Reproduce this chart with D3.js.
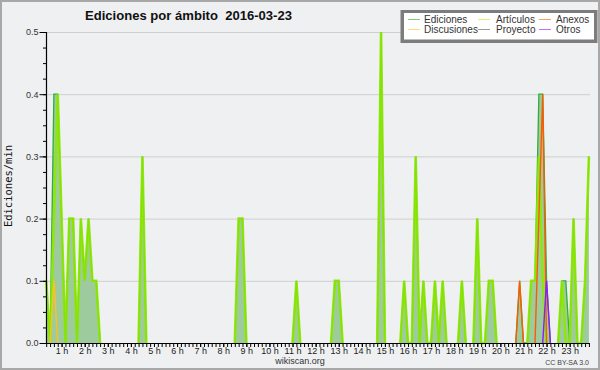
<!DOCTYPE html>
<html>
<head>
<meta charset="utf-8">
<script src="https://cdn.jsdelivr.net/npm/d3@7/dist/d3.min.js"></script>
<style>
  body { margin: 0; background: #f0f0f0; }
</style>
</head>
<body>
<div id="chart"></div>
<script>
// edits per minute, one value per 10 minutes from 0:20 to 23:50
const ediciones = [
  0.1, 0, 0.4, 0.4,
  0.2, 0, 0.2, 0.2, 0, 0.2,
  0.1, 0.2, 0.1, 0.1, 0, 0,
  0, 0, 0, 0, 0, 0,
  0, 0, 0, 0.3, 0, 0,
  0, 0, 0, 0, 0, 0,
  0, 0, 0, 0, 0, 0,
  0, 0, 0, 0, 0, 0,
  0, 0, 0, 0, 0.2, 0.2,
  0, 0, 0, 0, 0, 0,
  0, 0, 0, 0, 0, 0,
  0, 0.1, 0, 0, 0, 0,
  0, 0, 0, 0, 0, 0.1,
  0.1, 0, 0, 0, 0, 0,
  0, 0, 0, 0, 0, 0.5,
  0, 0, 0, 0, 0, 0.1,
  0, 0, 0.3, 0, 0.1, 0,
  0, 0.1, 0, 0.1, 0, 0,
  0, 0, 0.1, 0, 0, 0,
  0.2, 0, 0, 0.1, 0.1, 0,
  0, 0, 0, 0, 0, 0.1,
  0, 0, 0.1, 0.1, 0.4, 0.4,
  0.1, 0, 0, 0, 0.1, 0.1,
  0, 0.2, 0, 0, 0.1, 0.3
];
const articulos = [
  0.1, 0, 0.2, 0.4,
  0.2, 0, 0.2, 0.2, 0, 0.2,
  0.1, 0.2, 0.1, 0.1, 0, 0,
  0, 0, 0, 0, 0, 0,
  0, 0, 0, 0.3, 0, 0,
  0, 0, 0, 0, 0, 0,
  0, 0, 0, 0, 0, 0,
  0, 0, 0, 0, 0, 0,
  0, 0, 0, 0, 0.2, 0.2,
  0, 0, 0, 0, 0, 0,
  0, 0, 0, 0, 0, 0,
  0, 0.1, 0, 0, 0, 0,
  0, 0, 0, 0, 0, 0.1,
  0.1, 0, 0, 0, 0, 0,
  0, 0, 0, 0, 0, 0.5,
  0, 0, 0, 0, 0, 0.1,
  0, 0, 0.3, 0, 0.1, 0,
  0, 0.1, 0, 0.1, 0, 0,
  0, 0, 0.1, 0, 0, 0,
  0.2, 0, 0, 0.1, 0.1, 0,
  0, 0, 0, 0, 0, 0,
  0, 0, 0.1, 0.1, 0.3, 0.1,
  0, 0, 0, 0, 0.1, 0,
  0, 0.2, 0, 0, 0.1, 0.3
];
const discusiones = [
  0, 0, 0.1, 0,
  0, 0, 0, 0, 0, 0,   0, 0, 0, 0, 0, 0,   0, 0, 0, 0, 0, 0,
  0, 0, 0, 0, 0, 0,   0, 0, 0, 0, 0, 0,   0, 0, 0, 0, 0, 0,
  0, 0, 0, 0, 0, 0,   0, 0, 0, 0, 0, 0,   0, 0, 0, 0, 0, 0,
  0, 0, 0, 0, 0, 0,   0, 0, 0, 0, 0, 0,   0, 0, 0, 0, 0, 0,
  0, 0, 0, 0, 0, 0,   0, 0, 0, 0, 0, 0,   0, 0, 0, 0, 0, 0,
  0, 0, 0, 0, 0, 0,   0, 0, 0, 0, 0, 0,   0, 0, 0, 0, 0, 0,
  0, 0, 0, 0, 0, 0,   0, 0, 0, 0, 0, 0,   0, 0, 0, 0, 0, 0,
  0, 0, 0, 0, 0, 0,   0, 0, 0, 0, 0, 0
];
const proyecto = [
  0, 0, 0, 0,
  0, 0, 0, 0, 0, 0,   0, 0, 0, 0, 0, 0,   0, 0, 0, 0, 0, 0,
  0, 0, 0, 0, 0, 0,   0, 0, 0, 0, 0, 0,   0, 0, 0, 0, 0, 0,
  0, 0, 0, 0, 0, 0,   0, 0, 0, 0, 0, 0,   0, 0, 0, 0, 0, 0,
  0, 0, 0, 0, 0, 0,   0, 0, 0, 0, 0, 0,   0, 0, 0, 0, 0, 0,
  0, 0, 0, 0, 0, 0,   0, 0, 0, 0, 0, 0,   0, 0, 0, 0, 0, 0,
  0, 0, 0, 0, 0, 0,   0, 0, 0, 0, 0, 0,   0, 0, 0, 0, 0, 0,
  0, 0, 0, 0, 0, 0,   0, 0, 0, 0, 0, 0,   0, 0, 0, 0, 0, 0,
  0, 0, 0, 0, 0, 0,   0, 0, 0, 0, 0, 0
];
const anexos = [
  0, 0, 0, 0,
  0, 0, 0, 0, 0, 0,   0, 0, 0, 0, 0, 0,   0, 0, 0, 0, 0, 0,
  0, 0, 0, 0, 0, 0,   0, 0, 0, 0, 0, 0,   0, 0, 0, 0, 0, 0,
  0, 0, 0, 0, 0, 0,   0, 0, 0, 0, 0, 0,   0, 0, 0, 0, 0, 0,
  0, 0, 0, 0, 0, 0,   0, 0, 0, 0, 0, 0,   0, 0, 0, 0, 0, 0,
  0, 0, 0, 0, 0, 0,   0, 0, 0, 0, 0, 0,   0, 0, 0, 0, 0, 0,
  0, 0, 0, 0, 0, 0,   0, 0, 0, 0, 0, 0,   0, 0, 0, 0, 0, 0,
  0, 0, 0, 0, 0, 0,   0, 0, 0, 0, 0, 0.1, 0, 0, 0, 0, 0.2, 0.4,
  0, 0, 0, 0, 0, 0,   0, 0, 0, 0, 0, 0
];
const otros = [
  0, 0, 0, 0,
  0, 0, 0, 0, 0, 0,   0, 0, 0, 0, 0, 0,   0, 0, 0, 0, 0, 0,
  0, 0, 0, 0, 0, 0,   0, 0, 0, 0, 0, 0,   0, 0, 0, 0, 0, 0,
  0, 0, 0, 0, 0, 0,   0, 0, 0, 0, 0, 0,   0, 0, 0, 0, 0, 0,
  0, 0, 0, 0, 0, 0,   0, 0, 0, 0, 0, 0,   0, 0, 0, 0, 0, 0,
  0, 0, 0, 0, 0, 0,   0, 0, 0, 0, 0, 0,   0, 0, 0, 0, 0, 0,
  0, 0, 0, 0, 0, 0,   0, 0, 0, 0, 0, 0,   0, 0, 0, 0, 0, 0,
  0, 0, 0, 0, 0, 0,   0, 0, 0, 0, 0, 0,   0, 0, 0, 0, 0, 0,
  0.1, 0, 0, 0, 0, 0,   0, 0, 0, 0, 0, 0
];
const startMin = 20;   // first bin 0:20
const binMin = 10;
const hourLabels = d3.range(1, 24).map(h => h + " h");
const yTicks = [0, 0.1, 0.2, 0.3, 0.4, 0.5];
const title = "Ediciones por ámbito  2016-03-23";

const width = 600;
const height = 370;
const plot = { left: 46.5, right: 590, top: 32, bottom: 343 };

const x = d3.scaleLinear().domain([0, 1440]).range([38.5, 38.5 + 144 * 3.849]);
const y = d3.scaleLinear().domain([0, 0.5]).range([plot.bottom, plot.top]);
const mins = ediciones.map((d, i) => startMin + i * binMin);

const svg = d3.select("#chart")
.append("svg")
  .attr("width", width)
  .attr("height", height);

svg.append("rect")
  .attr("x", 1).attr("y", 1)
  .attr("width", width - 2).attr("height", height - 2)
  .attr("fill", "#eff0f1")
  .attr("stroke", "#a8a8a8")
  .attr("stroke-width", 2);

const defs = svg.append("defs");
defs.append("filter").attr("id", "soft")
  .attr("x", "-20%").attr("y", "-5%").attr("width", "140%").attr("height", "110%")
  .append("feGaussianBlur").attr("stdDeviation", 0.7);

// grid
svg.append("g").selectAll("line")
.data(yTicks.slice(1))
.enter()
.append("line")
  .attr("x1", plot.left).attr("x2", plot.right)
  .attr("y1", d => y(d) + 0.5).attr("y2", d => y(d) + 0.5)
  .attr("stroke", "#cfcfcf")
  .attr("stroke-width", 1);

// skip flat runs of zeros so nothing is drawn along the baseline
const line = vals => d3.line()
  .defined((d, i) => d > 0 || vals[i - 1] > 0 || vals[i + 1] > 0)
  .x((d, i) => x(mins[i]))
  .y(d => y(d))(vals);

// filled total
svg.append("path")
  .attr("d", d3.area()
    .x((d, i) => x(mins[i]))
    .y0(y(0))
    .y1(d => y(d))(ediciones))
  .attr("fill", "#9ecb9e");

svg.append("path")
  .attr("d", line(ediciones))
  .attr("fill", "none")
  .attr("stroke", "#2fae3a")
  .attr("stroke-width", 1.3);

svg.append("path")
  .attr("d", line(articulos))
  .attr("fill", "none")
  .attr("stroke", "#8ee800")
  .attr("stroke-width", 2.6)
  .attr("stroke-opacity", 0.9)
  .attr("filter", "url(#soft)");

const others = [
  { vals: discusiones, color: "#ffc21a" },
  { vals: proyecto, color: "#555555" },
  { vals: anexos, color: "#ff5a00" },
  { vals: otros, color: "#8a1cff" },
];
others.forEach(s => {
  svg.append("path")
    .attr("d", line(s.vals))
    .attr("fill", "none")
    .attr("stroke", s.color)
    .attr("stroke-width", 1.4);
});

// y axis
const yAxis = svg.append("g")
  .attr("transform", `translate(${plot.left},0)`)
  .call(d3.axisLeft(y).tickValues(yTicks).tickFormat(d3.format(".1f")).tickSize(7).tickPadding(1));
yAxis.select(".domain").remove();
yAxis.selectAll("text").attr("font-family", "Liberation Sans").attr("font-size", 9).attr("fill", "#333");
const yMinor = svg.append("g")
  .attr("transform", `translate(${plot.left},0)`)
  .call(d3.axisLeft(y).tickValues(d3.range(0, 0.5, 0.025)).tickFormat("").tickSize(3.5));
yMinor.select(".domain").remove();

// x axis
const xMinor = svg.append("g")
  .attr("transform", `translate(0,${plot.bottom})`)
  .call(d3.axisBottom(x).tickValues(d3.range(20, 1440, 10)).tickFormat("").tickSize(4));
xMinor.select(".domain").remove();
const xAxis = svg.append("g")
  .attr("transform", `translate(0,${plot.bottom})`)
  .call(d3.axisBottom(x).tickValues(d3.range(60, 1440, 60))
    .tickFormat((d, i) => hourLabels[i]).tickSize(4).tickPadding(1));
xAxis.select(".domain").remove();
xAxis.selectAll("text").attr("font-family", "Liberation Sans").attr("font-size", 9).attr("fill", "#222");

svg.append("line")
  .attr("x1", plot.left).attr("x2", plot.left)
  .attr("y1", plot.top).attr("y2", plot.bottom + 0.5)
  .attr("stroke", "#000").attr("stroke-width", 1.2);
svg.append("line")
  .attr("x1", plot.left).attr("x2", plot.right)
  .attr("y1", plot.bottom + 0.5).attr("y2", plot.bottom + 0.5)
  .attr("stroke", "#000").attr("stroke-width", 1.2);

// texts
svg.append("text")
  .attr("x", 85).attr("y", 19.5)
  .attr("font-family", "Liberation Sans").attr("font-weight", "bold").attr("font-size", 13.5)
  .attr("textLength", 207).attr("lengthAdjust", "spacingAndGlyphs")
  .attr("fill", "#111")
  .style("white-space", "pre")
  .text(title);

svg.append("text")
  .attr("transform", "translate(12,186) rotate(-90)")
  .attr("text-anchor", "middle")
  .attr("font-family", "DejaVu Sans Mono").attr("font-size", 10.5)
  .attr("fill", "#111")
  .text("Ediciones/min");

svg.append("text")
  .attr("x", 300).attr("y", 364)
  .attr("text-anchor", "middle")
  .attr("font-family", "Liberation Sans").attr("font-size", 9)
  .attr("fill", "#333")
  .text("wikiscan.org");

svg.append("text")
  .attr("x", 589).attr("y", 364.5)
  .attr("text-anchor", "end")
  .attr("font-family", "Liberation Sans").attr("font-size", 7)
  .attr("fill", "#444")
  .text("CC BY-SA 3.0");

// legend
const legend = svg.append("g");
legend.append("rect")
  .attr("x", 400.5).attr("y", 10).attr("width", 197).attr("height", 33)
  .attr("fill", "#7c7c7c");
legend.append("rect")
  .attr("x", 404).attr("y", 13).attr("width", 190).attr("height", 26.5)
  .attr("fill", "#ffffff");

const legendItems = [
  { name: "Ediciones", color: "#2fae3a", col: 0, row: 0 },
  { name: "Artículos", color: "#b4ee22", col: 1, row: 0 },
  { name: "Anexos", color: "#ff5a00", col: 2, row: 0 },
  { name: "Discusiones", color: "#ffc21a", col: 0, row: 1 },
  { name: "Proyecto", color: "#555555", col: 1, row: 1 },
  { name: "Otros", color: "#8a1cff", col: 2, row: 1 },
];
const colX = [408, 478, 539];
const textX = [424, 496, 556];
const rowY = [19.5, 29.5];

legend.selectAll("line.item")
.data(legendItems)
.enter()
.append("line")
  .attr("class", "item")
  .attr("x1", d => colX[d.col]).attr("x2", d => colX[d.col] + 12)
  .attr("y1", d => rowY[d.row]).attr("y2", d => rowY[d.row])
  .attr("stroke", d => d.color)
  .attr("stroke-opacity", 0.6)
  .attr("stroke-width", 1);

legend.selectAll("text.item")
.data(legendItems)
.enter()
.append("text")
  .attr("class", "item")
  .attr("x", d => textX[d.col]).attr("y", d => rowY[d.row] + 3.5)
  .attr("font-family", "Liberation Sans").attr("font-size", 10)
  .attr("fill", "#333")
  .text(d => d.name);
</script>
</body>
</html>
